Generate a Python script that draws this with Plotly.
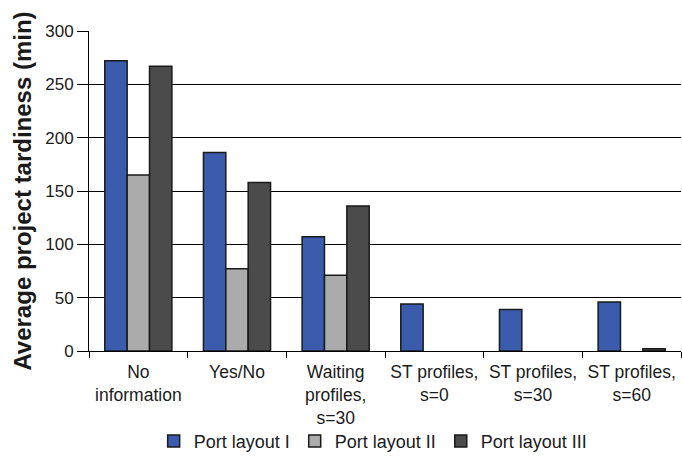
import plotly.graph_objects as go

categories = ["No<br>information", "Yes/No", "Waiting<br>profiles,<br>s=30",
              "ST profiles,<br>s=0", "ST profiles,<br>s=30", "ST profiles,<br>s=60"]
# None = no bar drawn for that layout
layout_1 = [272, 186, 107, 44, 39, 46]
layout_2 = [165, 77, 71, None, None, None]
layout_3 = [267, 158, 136, None, None, 2]
y_ticks = [0, 50, 100, 150, 200, 250, 300]

series = [
    ("Port layout I", layout_1, "#3B5BAD"),
    ("Port layout II", layout_2, "#ABABAB"),
    ("Port layout III", layout_3, "#4B4B4B"),
]

fig = go.Figure()
for name, vals, color in series:
    fig.add_trace(go.Bar(
        x=categories, y=vals, name=name,
        marker=dict(color=color, line=dict(color="#1a1a1a", width=1.5)),
    ))

fig.update_layout(
    width=682, height=461,
    margin=dict(l=89, r=1, t=31, b=110),
    plot_bgcolor="white", paper_bgcolor="white",
    font=dict(family="Liberation Sans, Arial, sans-serif", size=17, color="#1a1a1a"),
    barmode="group", bargap=0.32, bargroupgap=0,
    legend=dict(orientation="h", x=0.48, xanchor="center",
                yref="container", y=0.043, yanchor="middle",
                bgcolor="rgba(0,0,0,0)",
                font=dict(size=18), itemwidth=30, tracegroupgap=0),
)
fig.update_xaxes(
    automargin=False,
    showline=True, linecolor="black", linewidth=1,
    ticks="outside", ticklen=6, tickcolor="black", tickson="boundaries",
    tickangle=0, tickfont=dict(size=17.5), ticklabelstandoff=5,
)
fig.update_yaxes(
    automargin=False,
    range=[0, 300], tickvals=y_ticks, tickfont=dict(size=17),
    showline=True, linecolor="black", linewidth=1,
    ticks="outside", ticklen=11, tickcolor="black",
    showgrid=True, gridcolor="black", gridwidth=1,
    zeroline=False,
    title=dict(text="<b>Average project tardiness (min)</b>", font=dict(size=24), standoff=6),
)

# drop the browser's default 8px body margin so the figure sits at the page corner
fig.write_html("out.html", config={"displayModeBar": False},
               post_script="document.body.style.margin='0px';")
